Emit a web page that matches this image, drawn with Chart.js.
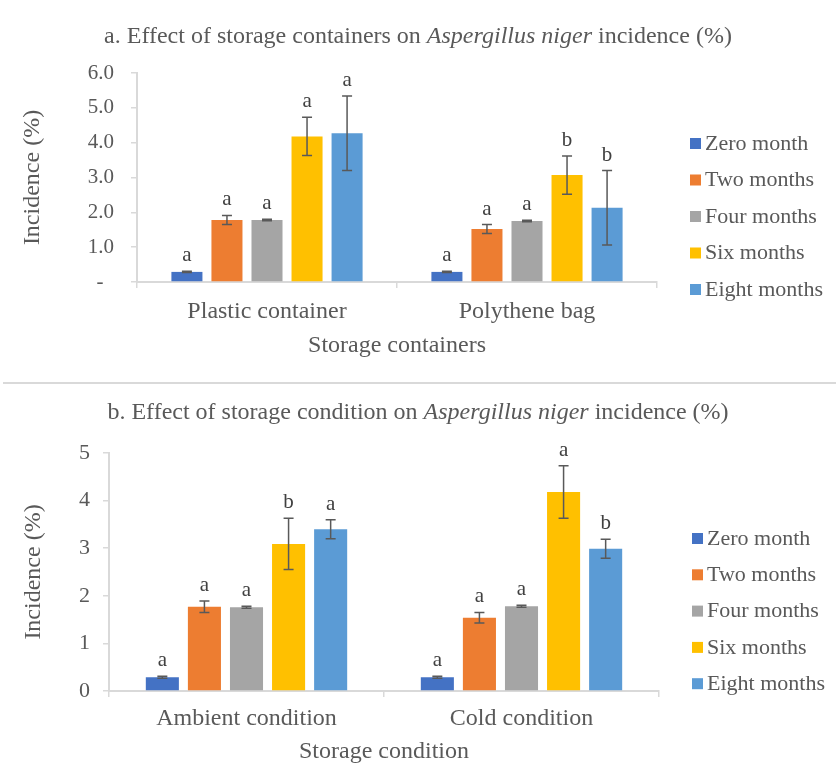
<!DOCTYPE html>
<html>
<head>
<meta charset="utf-8">
<script src="https://cdn.jsdelivr.net/npm/chart.js@4.4.1/dist/chart.umd.min.js"></script>
<style>
    body { margin: 0; background: #fff; width: 836px; height: 767px; position: relative; overflow: hidden; }
    #boxA { position: absolute; left: 0; top: 0; }
    #boxB { position: absolute; left: 0; top: 385px; }
    #sep { position: absolute; left: 3px; top: 382px; width: 833px; height: 2px; background: #d9d9d9; }
</style>
</head>
<body>
<div id="boxA"><canvas id="chartA" width="836" height="382"></canvas></div>
<div id="sep"></div>
<div id="boxB"><canvas id="chartB" width="836" height="382"></canvas></div>
<script>
// Séries (meses de armazenamento)
const seriesLabels = ['Zero month', 'Two months', 'Four months', 'Six months', 'Eight months'];
const seriesColors = ['#4472C4', '#ED7D31', '#A5A5A5', '#FFC000', '#5B9BD5'];

// a. recipientes
const containerCats = ['Plastic container', 'Polythene bag'];
const contZero = [0.29, 0.29];
const contTwo = [1.78, 1.52];
const contFour = [1.78, 1.75];
const contSix = [4.18, 3.07];
const contEight = [4.27, 2.13];
const contZeroErr = [0.02, 0.02];
const contTwoErr = [0.13, 0.13];
const contFourErr = [0.02, 0.02];
const contSixErr = [0.55, 0.55];
const contEightErr = [1.07, 1.07];
const contLetters = [['a', 'a'], ['a', 'a'], ['a', 'a'], ['a', 'b'], ['a', 'b']];
const contTicks = [0, 1, 2, 3, 4, 5, 6];

// b. condição
const conditionCats = ['Ambient condition', 'Cold condition'];
const condZero = [0.29, 0.29];
const condTwo = [1.77, 1.54];
const condFour = [1.76, 1.78];
const condSix = [3.09, 4.18];
const condEight = [3.40, 2.99];
const condZeroErr = [0.02, 0.02];
const condTwoErr = [0.12, 0.11];
const condFourErr = [0.02, 0.02];
const condSixErr = [0.54, 0.55];
const condEightErr = [0.20, 0.20];
const condLetters = [['a', 'a'], ['a', 'a'], ['a', 'a'], ['b', 'a'], ['a', 'b']];
const condTicks = [0, 1, 2, 3, 4, 5];

const FONT = '"Liberation Serif", "Times New Roman", serif';
const TEXT = '#595959';
const AXIS = '#d9d9d9';

function montarDatasets(valores, erros, letras, catPct, barPct) {
    return valores.map((v, i) => ({
        label: seriesLabels[i],
        data: v,
        erros: erros[i],
        letras: letras[i],
        backgroundColor: seriesColors[i],
        categoryPercentage: catPct,
        barPercentage: barPct
    }));
}

// barras de erro + letras de significância
const errorBarsPlugin = {
    id: 'errorBars',
    afterDatasetsDraw(chart) {
        const ctx = chart.ctx;
        const y = chart.scales.y;
        ctx.save();
        chart.data.datasets.forEach((ds, i) => {
            const meta = chart.getDatasetMeta(i);
            meta.data.forEach((bar, j) => {
                const v = ds.data[j];
                const e = ds.erros[j];
                const top = y.getPixelForValue(v + e);
                const bot = y.getPixelForValue(v - e);
                ctx.strokeStyle = '#595959';
                ctx.lineWidth = 1.5;
                ctx.beginPath();
                ctx.moveTo(bar.x, top); ctx.lineTo(bar.x, bot);
                ctx.moveTo(bar.x - 5, top); ctx.lineTo(bar.x + 5, top);
                ctx.moveTo(bar.x - 5, bot); ctx.lineTo(bar.x + 5, bot);
                ctx.stroke();
                ctx.fillStyle = '#404040';
                ctx.font = '21px ' + FONT;
                ctx.textAlign = 'center';
                ctx.textBaseline = 'alphabetic';
                ctx.fillText(ds.letras[j], bar.x, top - 10);
            });
        });
        ctx.restore();
    }
};

// título com parte em itálico
const richTitlePlugin = {
    id: 'richTitle',
    afterDraw(chart, args, opts) {
        const ctx = chart.ctx;
        ctx.save();
        ctx.fillStyle = TEXT;
        ctx.textBaseline = 'middle';
        const fonts = opts.parts.map(p => (p.italic ? 'italic ' : '') + '24px ' + FONT);
        let total = 0;
        opts.parts.forEach((p, i) => { ctx.font = fonts[i]; total += ctx.measureText(p.text).width; });
        let x = chart.width / 2 - total / 2;
        ctx.textAlign = 'left';
        opts.parts.forEach((p, i) => {
            ctx.font = fonts[i];
            ctx.fillText(p.text, x, opts.y);
            x += ctx.measureText(p.text).width;
        });
        ctx.restore();
    }
};

// legenda à direita
const sideLegendPlugin = {
    id: 'sideLegend',
    afterDraw(chart, args, opts) {
        const ctx = chart.ctx;
        ctx.save();
        ctx.font = '22px ' + FONT;
        ctx.textBaseline = 'middle';
        ctx.textAlign = 'left';
        chart.data.datasets.forEach((ds, i) => {
            const yy = opts.y0 + i * opts.step;
            ctx.fillStyle = ds.backgroundColor;
            ctx.fillRect(opts.x, yy - 6, 11, 11);
            ctx.fillStyle = TEXT;
            ctx.fillText(ds.label, opts.x + 15, yy);
        });
        ctx.restore();
    }
};

function criarGrafico(id, cfg) {
    return new Chart(document.getElementById(id), {
        type: 'bar',
        data: {
            labels: cfg.cats,
            datasets: montarDatasets(cfg.valores, cfg.erros, cfg.letras, cfg.catPct, cfg.barPct)
        },
        plugins: [errorBarsPlugin, richTitlePlugin, sideLegendPlugin],
        options: {
            responsive: false,
            animation: false,
            devicePixelRatio: 1,
            layout: { padding: { top: cfg.top, right: cfg.right, left: 0, bottom: 0 } },
            plugins: {
                legend: { display: false },
                tooltip: { enabled: false },
                richTitle: { parts: cfg.titulo, y: cfg.tituloY },
                sideLegend: cfg.legenda
            },
            scales: {
                x: {
                    afterFit: s => { s.height = cfg.xHeight; },
                    grid: { display: true, offset: true, drawOnChartArea: false, tickLength: 6, color: AXIS, lineWidth: 1.5 },
                    border: { display: true, color: AXIS, width: 2 },
                    ticks: { color: TEXT, padding: cfg.xPad, font: { family: FONT, size: 24, lineHeight: 1.2 } },
                    title: { display: true, text: cfg.xTitle, color: TEXT, padding: { top: 0, bottom: cfg.xTitlePad }, font: { family: FONT, size: 24, lineHeight: 1.2 } }
                },
                y: {
                    min: 0,
                    max: cfg.max,
                    afterFit: s => { s.width = cfg.yWidth; },
                    afterBuildTicks: s => { s.ticks = cfg.ticks.map(v => ({ value: v })); },
                    grid: { display: true, drawOnChartArea: false, tickLength: 6, color: AXIS, lineWidth: 1.5 },
                    border: { display: true, color: AXIS, width: 2 },
                    ticks: { color: TEXT, padding: cfg.yPad, callback: cfg.fmt, font: { family: FONT, size: cfg.tickSize } },
                    title: { display: true, text: 'Incidence (%)', color: TEXT, padding: { top: cfg.yTitlePad }, font: { family: FONT, size: 24, lineHeight: 1.2 } }
                }
            }
        }
    });
}

criarGrafico('chartA', {
    cats: containerCats,
    valores: [contZero, contTwo, contFour, contSix, contEight],
    erros: [contZeroErr, contTwoErr, contFourErr, contSixErr, contEightErr],
    letras: contLetters,
    ticks: contTicks,
    max: 6,
    fmt: v => v === 0 ? '-  ' : v.toFixed(1),
    tickSize: 21,
    catPct: 0.77, barPct: 0.775,
    top: 73, right: 179,
    xHeight: 100, yWidth: 137,
    xPad: 9, xTitlePad: 22, yPad: 17, yTitlePad: 18,
    xTitle: 'Storage containers',
    titulo: [
        { text: 'a. Effect of storage containers on ', italic: false },
        { text: 'Aspergillus niger', italic: true },
        { text: ' incidence (%)', italic: false }
    ],
    tituloY: 37,
    legenda: { x: 690, y0: 144, step: 36.5 }
});

criarGrafico('chartB', {
    cats: conditionCats,
    valores: [condZero, condTwo, condFour, condSix, condEight],
    erros: [condZeroErr, condTwoErr, condFourErr, condSixErr, condEightErr],
    letras: condLetters,
    ticks: condTicks,
    max: 5,
    fmt: v => String(v),
    tickSize: 22,
    catPct: 0.765, barPct: 0.786,
    top: 68, right: 177,
    xHeight: 76, yWidth: 109,
    xPad: 7, xTitlePad: 1, yPad: 13, yTitlePad: 19,
    xTitle: 'Storage condition',
    titulo: [
        { text: 'b. Effect of storage condition on ', italic: false },
        { text: 'Aspergillus niger', italic: true },
        { text: ' incidence (%)', italic: false }
    ],
    tituloY: 28,
    legenda: { x: 692, y0: 154, step: 36.3 }
});
</script>
</body>
</html>
